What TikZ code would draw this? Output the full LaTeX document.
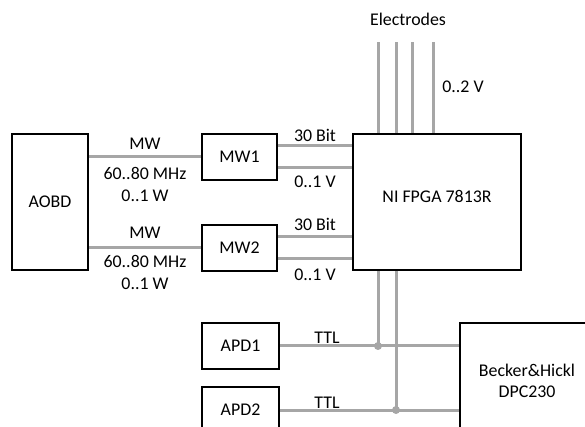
\documentclass[tikz,border=0pt]{standalone}
\usepackage{fontspec}
\setmainfont{Carlito}
\usepackage{xcolor}
\usetikzlibrary{positioning, calc}
\definecolor{wiregray}{RGB}{166,166,166}

\begin{document}
\begin{tikzpicture}[
        x=0.75pt, y=-0.75pt,
        font=\fontsize{13.4}{16}\selectfont,
        block/.style={draw, line width=1.5pt, fill=white, align=center, inner sep=0pt},
        wire/.style={draw=wiregray, line width=2.25pt},
        lbl/.style={inner sep=0pt, anchor=base},
        dot/.style={circle, fill=wiregray, inner sep=0pt, minimum size=6pt}
    ]
        \useasboundingbox (0,0) rectangle (585,427);
        \clip (0,0) rectangle (585,427);

        \node[block, minimum width=57pt, minimum height=102pt] (aobd) at (50,202) {AOBD};
        \node[block, minimum width=56.25pt, minimum height=34.5pt] (mwone) at (239.5,157) {MW1};
        \node[block, minimum width=56.25pt, minimum height=34.5pt] (mwtwo) at (239.5,248) {MW2};
        \node[block, minimum width=126pt, minimum height=102pt, text depth=9pt] (fpga) at (437,202) {NI FPGA 7813R};
        \node[block, minimum width=57.75pt, minimum height=34.5pt] (apdone) at (240.5,346) {APD1};
        \node[block, minimum width=57.75pt, minimum height=34.5pt] (apdtwo) at (240.5,410) {APD2};
        \node[block, minimum width=100.5pt, minimum height=87pt] (bh) at (527,381) {Becker\&Hickl\\DPC230};

        % microwave paths
        \draw[wire] (mwone.west -| aobd.east) -- (mwone.west);
        \draw[wire] (mwtwo.west -| aobd.east) -- (mwtwo.west);
        \node[lbl] (mwa) at (145,150) {MW};
        \node[lbl] (fa) at (145,180) {60..80 MHz};
        \node[lbl] (pa) at (145,202) {0..1 W};
        \node[lbl] (mwb) at (145,239) {MW};
        \node[lbl] (fb) at (145,268) {60..80 MHz};
        \node[lbl] (pb) at (145,290) {0..1 W};

        % MW boxes to FPGA
        \foreach \m in {mwone, mwtwo} {
            \draw[wire] ([yshift=8.25pt]\m.east) -- ([yshift=8.25pt]\m.east -| fpga.west);
            \draw[wire] ([yshift=-8.25pt]\m.east) -- ([yshift=-8.25pt]\m.east -| fpga.west);
        }
        \node[lbl] (bita) at (315,142) {30 Bit};
        \node[lbl] (va) at (315,188) {0..1 V};
        \node[lbl] (bitb) at (315,231) {30 Bit};
        \node[lbl] (vb) at (315,281) {0..1 V};

        % electrodes
        \foreach \dx in {26,44,60,81}
            \draw[wire] ([xshift=\dx*0.75pt]fpga.north west) -- ++(0,-91);
        \node[lbl] (el) at (408,26) {Electrodes};
        \node[lbl] (ev) at (463,93) {0..2 V};

        % TTL lines
        \coordinate (tapone) at ([xshift=19.5pt]fpga.south west);
        \coordinate (taptwo) at ([xshift=33pt]fpga.south west);
        \draw[wire] (apdone.east) -- (apdone.east -| bh.west);
        \draw[wire] (apdtwo.east) -- (apdtwo.east -| bh.west);
        \draw[wire] (tapone) -- (tapone |- apdone.east);
        \draw[wire] (taptwo) -- (taptwo |- apdtwo.east);
        \node[dot] (da) at (tapone |- apdone.east) {};
        \node[dot] (db) at (taptwo |- apdtwo.east) {};
        \node[lbl] (ttla) at (327,344) {TTL};
        \node[lbl] (ttlb) at (327,408) {TTL};
    \end{tikzpicture}
\end{document}
